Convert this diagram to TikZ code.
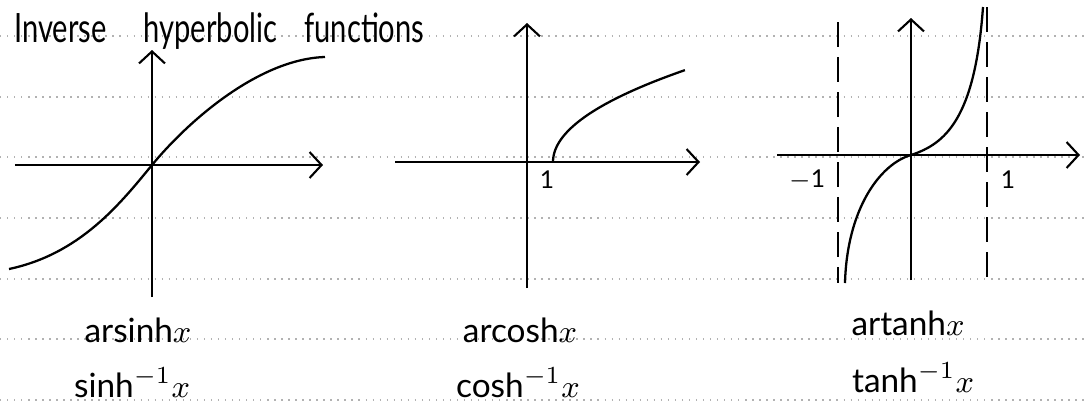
\documentclass[tikz,border=0pt]{standalone}
\usepackage{fontspec}
\setmainfont{Lato}
\newfontfamily\narrowfont{Lato}[FakeStretch=0.72]
\usetikzlibrary{arrows.meta}

\tikzset{
  axis/.style={line width=0.6pt, -{Straight Barb[length=1.2mm,width=2.6mm]}},
  curve/.style={line width=0.65pt},
  asymptote/.style={line width=0.6pt, dash pattern=on 2.5mm off 1mm},
  ruling/.style={gray!60, line width=0.4pt, dash pattern=on 0.4pt off 1.6pt},
  fnlabel/.style={font=\fontsize{9.5}{11}\selectfont, anchor=base},
  tick/.style={font=\fontsize{7}{8}\selectfont}
}

\begin{document}
\begin{tikzpicture}
    \useasboundingbox (0,0) rectangle (10.85,4.09);
    % ruled lines of the paper
    \foreach \y in {3.73,3.12,2.52,1.91,1.30,0.70,0.09}
        \draw[ruling] (0,\y) -- (10.85,\y);

    \node[anchor=base west, font=\narrowfont\fontsize{11.5}{14}\selectfont] (title) at (0.02,3.67)
        {Inverse\hspace{0.37cm}hyperbolic\hspace{0.27cm}functions};

    % arsinh
    \draw[axis] (0.15,2.44) -- (3.23,2.44);
    \draw[axis] (1.52,1.12) -- (1.52,3.59);
    \draw[curve] (0.09,1.40) .. controls (0.8,1.55) and (1.2,2.05) .. (1.52,2.44)
        .. controls (1.9,2.90) and (2.6,3.50) .. (3.25,3.52);
    \node[fnlabel] (arsinh) at (1.38,0.67) {arsinh$x$};
    \node[fnlabel] (sinhinv) at (1.32,0.12) {sinh$^{-1}x$};

    % arcosh
    \draw[axis] (3.95,2.47) -- (7.00,2.47);
    \draw[axis] (5.27,1.21) -- (5.27,3.86);
    \draw[curve] plot[domain=0:1.149, samples=50] ({5.53+\x*\x},{2.47+0.8*\x});
    \node[tick] (one) at (5.47,2.29) {1};
    \node[fnlabel] (arcosh) at (5.20,0.67) {arcosh$x$};
    \node[fnlabel] (coshinv) at (5.18,0.12) {cosh$^{-1}x$};

    % artanh, asymptotes at -1 and 1
    \draw[axis] (7.77,2.54) -- (10.80,2.54);
    \draw[axis] (9.11,1.29) -- (9.11,3.91);
    \draw[asymptote] (8.38,3.87) -- (8.38,1.26);
    \draw[asymptote] (9.87,4.02) -- (9.87,1.32);
    \draw[curve] (8.45,1.26) .. controls (8.47,2.0) and (8.8,2.45) .. (9.11,2.54)
        .. controls (9.45,2.65) and (9.75,2.9) .. (9.83,4.02);
    \node[tick] (minusone) at (8.07,2.29) {$-$1};
    \node[tick] (plusone) at (10.08,2.29) {1};
    \node[fnlabel] (artanh) at (9.08,0.74) {artanh$x$};
    \node[fnlabel] (tanhinv) at (9.13,0.17) {tanh$^{-1}x$};
\end{tikzpicture}
\end{document}
